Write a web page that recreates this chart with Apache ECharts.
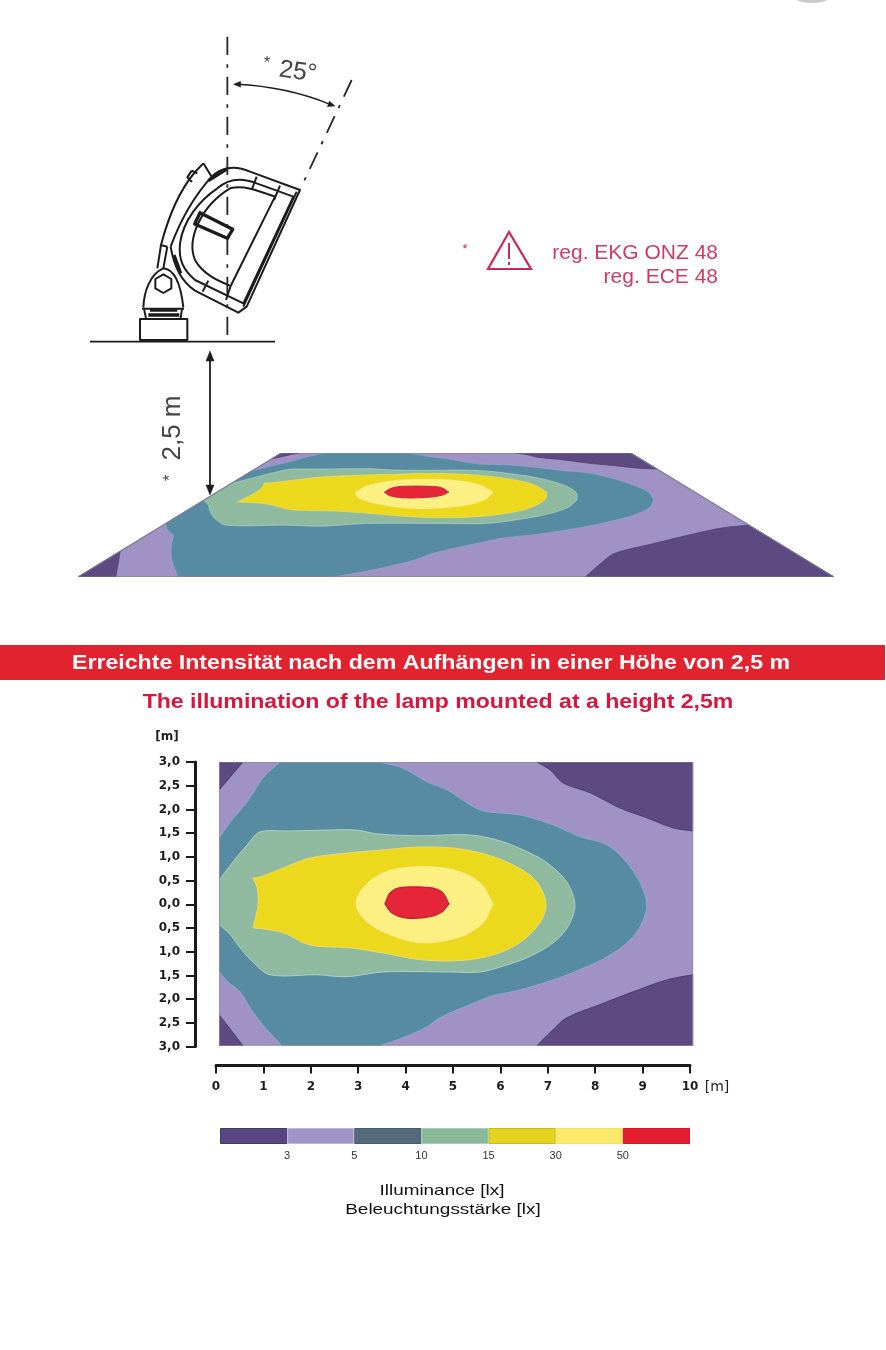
<!DOCTYPE html>
<html>
<head>
<meta charset="utf-8">
<style>html,body{margin:0;padding:0;background:#fff}#chart{width:886px;height:1350px}</style>
<script src="https://cdn.jsdelivr.net/npm/echarts@6/dist/echarts.min.js"></script>
</head>
<body>
<div id="chart"></div>
<script>
// Illuminance zones on the floor, in metres: x along the beam, y across it.
const floorArea = [[0,3],[10,3],[10,-3],[0,-3]];
const darkTopLeft = [[0,3],[.5,3],[.27,2.73],[0,2.41]];
const darkBottomLeft = [[0,-2.35],[.27,-2.7],[.5,-3],[0,-3]];
const darkTopRight = [[6.71,3],[6.99,2.83],[7.26,2.56],[7.83,2.35],[8.46,2.03],[9.03,1.82],[9.58,1.61],[10,1.54],[10,3]];
const darkBottomRight = [[10,-1.5],[9.45,-1.61],[8.74,-1.86],[8.04,-2.13],[7.34,-2.41],[7.05,-2.66],[6.71,-3],[10,-3]];
const zone5to10 = [[1.28,3],[3.39,3],[3.88,2.87],[4.39,2.58],[4.81,2.41],[5.51,1.99],[6.35,1.88],[7.05,1.67],[7.62,1.42],[8.19,1.25],[8.61,.87],[8.89,.44],[9.03,0],[8.93,-.4],[8.68,-.76],[8.19,-1.12],[7.62,-1.39],[7.05,-1.61],[6.35,-1.82],[5.72,-1.96],[5.3,-2.13],[4.66,-2.41],[4.39,-2.6],[3.88,-2.83],[3.39,-3],[1.32,-3],[.92,-2.56],[.65,-2.2],[.44,-1.86],[.18,-1.65],[0,-1.44],[0,1.39],[.23,1.73],[.59,2.16],[.92,2.66]];
const zone10to15 = [[0,.5],[.29,.89],[.59,1.25],[.86,1.52],[1.49,1.54],[2.27,1.56],[2.91,1.56],[3.33,1.48],[4.24,1.44],[5.23,1.46],[5.87,1.35],[6.42,1.14],[6.92,.87],[7.34,.46],[7.51,0],[7.41,-.4],[7.13,-.76],[6.63,-1.08],[6.08,-1.29],[5.51,-1.44],[4.81,-1.44],[3.46,-1.44],[2.7,-1.54],[2.06,-1.5],[1.07,-1.5],[.71,-1.23],[.44,-.93],[.23,-.65],[.06,-.49],[0,-.45]];
const zone15to30 = [[.71,.55],[.86,.57],[1.35,.76],[1.92,.97],[2.76,1.08],[3.46,1.14],[4.18,1.2],[4.94,1.18],[5.65,1.04],[6.29,.78],[6.71,.46],[6.9,0],[6.77,-.4],[6.35,-.82],[5.78,-1.08],[5.08,-1.2],[4.24,-1.18],[3.46,-1.04],[2.76,-.93],[1.92,-.87],[1.35,-.61],[.92,-.53],[.71,-.51],[.78,-.23],[.82,.04],[.8,.34]];
const zone30to50 = [[2.89,0],[3.04,.34],[3.46,.65],[4.09,.78],[4.94,.72],[5.51,.44],[5.78,0],[5.57,-.4],[5.08,-.7],[4.24,-.82],[3.46,-.59],[3.04,-.3]];
const zoneOver50 = [[3.5,0],[3.61,.23],[3.82,.34],[4.45,.34],[4.7,.25],[4.85,0],[4.7,-.17],[4.45,-.27],[3.96,-.3],[3.65,-.19]];

// Colour key: one band per illuminance class, labelled at the class limits.
const legendBands = [0,1,2,3,4,5,6];
const legendLimits = ['', '3', '5', '10', '15', '30', '50', ''];
const xTicks = [0,1,2,3,4,5,6,7,8,9,10];

const C = {dark:'#5c4a80', lilac:'#a092c5', teal:'#578ba2', green:'#90ba9f', yellow:'#ecd91e', pale:'#fdf082', red:'#e42638'};
const legendFill = ['#57467f','#a294c8','#556b7c','#8cb89a','#e6d320','#fbe96b','#e21e2e'];
const legendEdge = ['#453569','#c2b6e0','#47596a','#a4ccc0','#c9b81c','#f3e060','#d5182a'];

const zones = [
  [floorArea, C.lilac, C.lilac, 0],
  [darkTopLeft, C.dark, '#4d3d72', 1],
  [darkBottomLeft, C.dark, '#4d3d72', 1],
  [darkTopRight, C.dark, '#4d3d72', 1],
  [darkBottomRight, C.dark, '#4d3d72', 1],
  [zone5to10, C.teal, '#8fa8d0', 1],
  [zone10to15, C.green, '#a9d2c4', 1],
  [zone15to30, C.yellow, '#e9dc6a', 1],
  [zone30to50, C.pale, '#fbee9a', 1],
  [zoneOver50, C.red, '#c8203e', 1.4]
];

// Central projection of the floor plan onto the trapezoid seen in side view.
function toPerspective(p) {
  const depth = (3 - p[1]) / 6;
  const t = 0.463 * depth / (1 - 0.537 * depth);
  const widthShare = (349 + 406 * t) / 755;
  return [5 + (p[0] - 5) * widthShare, t];
}

// A segment lying on the rim of the floor stays straight.
function onRim(a, b) {
  return (a[0] === b[0] && (a[0] === 0 || a[0] === 10)) || (a[1] === b[1] && Math.abs(a[1]) === 3);
}

// Rounds a zone outline in screen space, keeping rim segments and sharp corners.
function roundOutline(screen, plan) {
  const n = screen.length;
  const tangent = new Array(n);
  for (let i = 0; i < n; i++) {
    const p = screen[(i + n - 1) % n], c = screen[i], q = screen[(i + 1) % n];
    const u = [c[0] - p[0], c[1] - p[1]], v = [q[0] - c[0], q[1] - c[1]];
    const lu = Math.hypot(u[0], u[1]) || 1, lv = Math.hypot(v[0], v[1]) || 1;
    const cos = (u[0] * v[0] + u[1] * v[1]) / (lu * lv);
    const rim = onRim(plan[(i + n - 1) % n], plan[i]) || onRim(plan[i], plan[(i + 1) % n]);
    tangent[i] = (rim || cos < 0.55) ? null : [(q[0] - p[0]) / (lu + lv), (q[1] - p[1]) / (lu + lv)];
  }
  const out = [];
  for (let i = 0; i < n; i++) {
    const j = (i + 1) % n, a = screen[i], b = screen[j];
    const len = Math.hypot(b[0] - a[0], b[1] - a[1]);
    const chord = [(b[0] - a[0]) / (len || 1), (b[1] - a[1]) / (len || 1)];
    const ta = tangent[i] || chord, tb = tangent[j] || chord;
    const steps = onRim(plan[i], plan[j]) ? 1 : 6;
    for (let s = 0; s < steps; s++) {
      const k = s / steps, k2 = k * k, k3 = k2 * k;
      const h00 = 2 * k3 - 3 * k2 + 1, h10 = k3 - 2 * k2 + k, h01 = -2 * k3 + 3 * k2, h11 = k3 - k2;
      out.push([h00 * a[0] + h10 * len * ta[0] + h01 * b[0] + h11 * len * tb[0],
                h00 * a[1] + h10 * len * ta[1] + h01 * b[1] + h11 * len * tb[1]]);
    }
  }
  return out;
}

function polygonSeries(pts, plan, fill, stroke, lw, axisIndex) {
  return {
    type: 'custom', coordinateSystem: 'cartesian2d',
    xAxisIndex: axisIndex, yAxisIndex: axisIndex, data: pts, clip: true, silent: true,
    renderItem(params, api) {
      if (params.dataIndex) return null;
      return {
        type: 'polygon',
        shape: {points: roundOutline(pts.map(p => api.coord(p)), plan)},
        style: {fill: fill, stroke: lw ? stroke : null, lineWidth: lw}
      };
    }
  };
}

const series = [];
zones.forEach(z => series.push(polygonSeries(z[0], z[0], z[1], z[2], z[3], 0)));
series.push(polygonSeries(floorArea, floorArea, 'transparent', '#8b86a8', 1, 0));
zones.forEach(z => series.push(polygonSeries(z[0].map(toPerspective), z[0], z[1], z[2], z[3] * 0.7, 2)));
series.push(polygonSeries(floorArea.map(toPerspective), floorArea, 'transparent', '#7d7990', 1.2, 2));
series.push({
  type: 'custom', coordinateSystem: 'cartesian2d', xAxisIndex: 3, yAxisIndex: 3, silent: true,
  data: legendBands.map(i => [i, 0]),
  renderItem(params, api) {
    const a = api.coord([api.value(0), 1]), b = api.coord([api.value(0) + 1, 0]);
    const i = params.dataIndex;
    return {type: 'rect', shape: {x: a[0] + .5, y: a[1] + .5, width: b[0] - a[0] - 1, height: b[1] - a[1] - 1},
      style: {fill: legendFill[i], stroke: legendEdge[i], lineWidth: 1}};
  }
});

const hiddenAxis = {show: false};
const ink = '#1a1a1a';
const axisText = {color: '#1c1c1c', fontFamily: 'DejaVu Sans', fontSize: 12, fontWeight: 'bold'};

// Side view of the lamp, traced on a 3x drawing grid.
const lampOutline = 'M370 430 L345 456 C300 510 265 590 243 675 L262 680 M395 470 C350 520 305 590 272 680 M370 430 L395 470 ' +
  'M395 470 C420 445 460 432 510 455 L660 510 L500 860 L475 878 L345 812 C300 782 280 730 272 680 ' +
  'M335 452 L322 472 L336 486 M335 452 L352 460 ' +
  'M243 675 L232 745 M262 680 L250 745 ' +
  'M412 505 C440 480 480 470 530 490 L640 530 L490 850 L345 780 C310 750 295 720 300 670 C310 600 360 540 412 505 ' +
  'M450 505 C490 495 530 510 585 530 L452 798 C420 785 370 765 345 720 C320 660 360 560 450 505 ' +
  'M530 470 L515 510 M600 497 L582 540 ' +
  'M385 782 L368 815 M452 798 L438 840 ' +
  'M650 515 L490 860';
const lampHeavy = 'M360 578 L458 628 L442 655 L344 612 Z M385 482 L440 447 M282 705 L302 760 M210 870 L292 870 M205 885 L298 885';
const lampMount = 'M190 862 C192 815 210 762 250 745 C285 748 302 790 310 862 M186 866 L312 866 M192 866 L198 895 M306 866 L302 895 ' +
  'M180 897 L322 897 L322 960 L180 960 Z M250 763 L274 777 L274 805 L250 819 L226 805 L226 777 Z';

const dark = '#1c1c1c';
const crimson = '#c92a55';
const drawn = (d, w, stroke, extra) => ({
  type: 'path', shape: {pathData: d},
  style: Object.assign({fill: 'transparent', stroke: stroke || dark, lineWidth: w, lineJoin: 'round'}, extra || {})
});
series.push({
  type: 'custom', coordinateSystem: 'none', data: [[0]], silent: true, z: 4,
  renderItem() {
    return {
      type: 'group',
      children: [
        {type: 'group', x: 80, y: 20, scaleX: 1/3, scaleY: 1/3, children: [
          drawn('M442 50 L442 965', 5.5, '#2a2a2a', {lineDash: [55, 28, 10, 27]}),
          drawn('M815 180 L662 505', 5.5, '#2a2a2a', {lineDash: [55, 28, 10, 27]}),
          drawn('M470 193 Q620 200 750 253', 4.5),
          drawn('M460 193 L482 184 L482 202 Z M765 258 L742 260 L748 243 Z', 1, dark, {fill: dark}),
          drawn('M30 965 L585 965', 5.5),
          drawn(lampOutline, 6),
          drawn(lampHeavy, 10),
          drawn(lampMount, 6)
        ]},
        drawn('M210 356 L210 490', 1.8),
        drawn('M210 351 L206 361 L214 361 Z M210 495 L206 485 L214 485 Z', .5, dark, {fill: dark}),
        {type: 'polygon', shape: {points: [[509, 232], [488, 269], [531, 269]]}, style: {fill: 'transparent', stroke: crimson, lineWidth: 2.2}},
        drawn('M509 243 L509 259 M509 262 L509 265', 2, crimson)
      ]
    };
  }
});

const text = (t, x, y, size, color, extra, el) => Object.assign({
  type: 'text', x: x, y: y, z: 5,
  style: Object.assign({text: t, x: 0, y: 0, fontSize: size, fill: color, fontFamily: 'Liberation Sans',
    textAlign: 'center', textVerticalAlign: 'middle'}, extra || {})
}, el || {});

const graphic = [
  {type: 'ellipse', shape: {cx: 812, cy: -5, rx: 20, ry: 8}, style: {fill: '#c9c9c9'}, z: 1},
  text('25°', 298, 72, 25, '#444', null, {rotation: -0.14}),
  text('*', 267, 64, 16, '#444'),
  text('2,5 m', 173, 428, 26, '#444', null, {rotation: Math.PI / 2}),
  text('*', 171, 478, 16, '#444', null, {rotation: Math.PI / 2}),
  text('*', 465, 249, 13, crimson),
  text('reg. EKG ONZ 48', 718, 253, 21, '#cc3d63', {textAlign: 'right'}),
  text('reg. ECE 48', 718, 277, 21, '#cc3d63', {textAlign: 'right'}),
  {type: 'rect', shape: {x: 0, y: 645, width: 885, height: 35}, style: {fill: '#e1232f'}, z: 1},
  text('Erreichte Intensität nach dem Aufhängen in einer Höhe von 2,5 m', 431, 663, 20, '#fff', {fontWeight: 'bold'}, {scaleX: 1.158}),
  text('The illumination of the lamp mounted at a height 2,5m', 438, 702, 20.5, '#d5173f', {fontWeight: 'bold'}, {scaleX: 1.125}),
  text('[m]', 167, 737, 12, '#222', {fontFamily: 'DejaVu Sans', fontWeight: 'bold'}),
  text('[m]', 717, 1087, 14, '#222', {fontFamily: 'DejaVu Sans'}),
  text('Illuminance [lx]', 442, 1191, 15, '#111', null, {scaleX: 1.26}),
  text('Beleuchtungsstärke [lx]', 443, 1210, 15.5, '#111', null, {scaleX: 1.22})
];

const option = {
  animation: false,
  backgroundColor: '#fff',
  grid: [
    {left: 219.3, top: 762, width: 473.4, height: 283.7},
    {left: 216, top: 762, width: 474, height: 284.5},
    {left: 78, top: 453, width: 756, height: 124},
    {left: 220, top: 1128, width: 470, height: 16}
  ],
  xAxis: [
    Object.assign({type: 'value', gridIndex: 0, min: 0, max: 10}, hiddenAxis),
    {type: 'value', gridIndex: 1, min: 0, max: 10, interval: 1, position: 'bottom', offset: 19,
      splitLine: {show: false},
      axisLine: {show: true, onZero: false, lineStyle: {color: ink, width: 3}},
      axisTick: {show: true, length: 8, lineStyle: {color: ink, width: 2}},
      axisLabel: Object.assign({margin: 15, formatter: v => String(xTicks[v])}, axisText)},
    Object.assign({type: 'value', gridIndex: 2, min: 0, max: 10}, hiddenAxis),
    {type: 'value', gridIndex: 3, min: 0, max: 7, interval: 1, splitLine: {show: false},
      axisLine: {show: false}, axisTick: {show: false},
      axisLabel: {margin: 6, fontSize: 11, color: '#333', fontFamily: 'Liberation Sans', formatter: v => legendLimits[v]}}
  ],
  yAxis: [
    Object.assign({type: 'value', gridIndex: 0, min: -3, max: 3}, hiddenAxis),
    {type: 'value', gridIndex: 1, min: -3, max: 3, interval: 0.5, position: 'left', offset: 21,
      splitLine: {show: false},
      axisLine: {show: true, onZero: false, lineStyle: {color: ink, width: 3}},
      axisTick: {show: true, length: 9, lineStyle: {color: ink, width: 2}},
      axisLabel: Object.assign({margin: 15, formatter: v => Math.abs(v).toFixed(1).replace('.', ',')}, axisText)},
    Object.assign({type: 'value', gridIndex: 2, min: 0, max: 1, inverse: true}, hiddenAxis),
    Object.assign({type: 'value', gridIndex: 3, min: 0, max: 1}, hiddenAxis)
  ],
  series: series,
  graphic: {elements: graphic}
};
echarts.init(document.getElementById('chart')).setOption(option);
</script>
</body>
</html>
